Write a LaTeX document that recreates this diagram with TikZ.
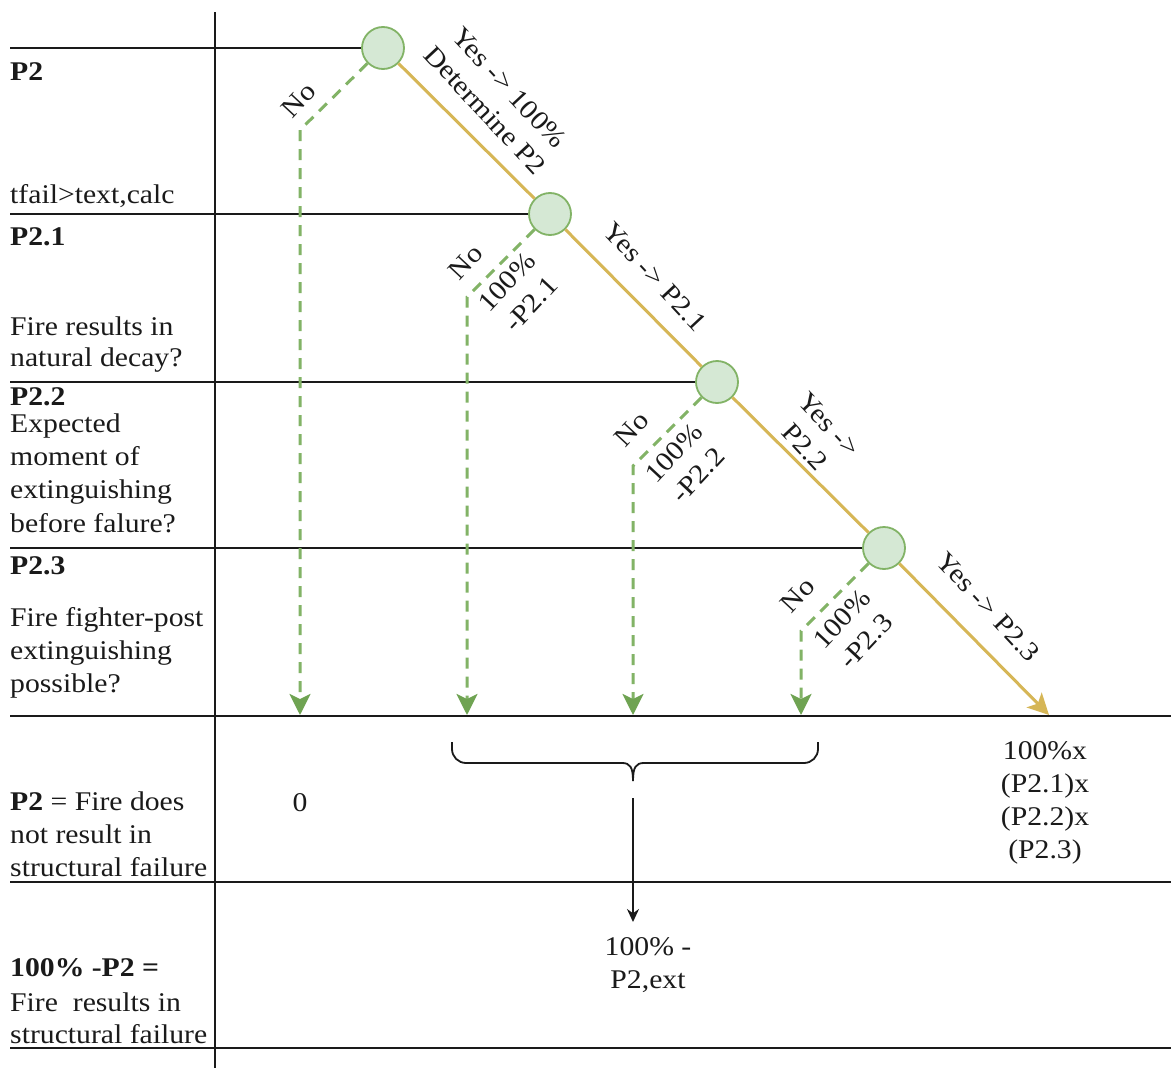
\documentclass[tikz,border=0pt]{standalone}
\usepackage{fontspec}
\setmainfont{Liberation Serif}[FakeStretch=1.1]
\usetikzlibrary{arrows.meta}
\definecolor{gfill}{HTML}{D5E8D4}
\definecolor{gline}{HTML}{82B366}
\definecolor{gtip}{HTML}{6FA352}
\definecolor{yline}{HTML}{D6B656}
\definecolor{ink}{HTML}{1A1A1A}
\newcommand\labfs{\fontsize{27}{33}\selectfont}
\tikzset{
  dec/.style={circle, draw=gline, fill=gfill, line width=1.8pt, minimum size=42pt, inner sep=0pt},
  rule/.style={draw=ink, line width=1.8pt},
  yesline/.style={draw=yline, line width=3pt},
  noline/.style={draw=gline, line width=3pt, dash pattern=on 11pt off 8pt,
     -{Stealth[length=21pt,width=21pt,inset=5pt,color=gtip]}},
  lt/.style={anchor=base west, inner sep=0pt, font=\labfs, text=ink},
  lab/.style={inner sep=0pt, font=\labfs, align=center, text=ink},
  brace/.style={draw=ink, line width=1.8pt},
}
\begin{document}
\begin{tikzpicture}[x=1pt,y=-1pt]
\useasboundingbox (0,0) rectangle (1171,1068);
\fill[white] (0,0) rectangle (1171,1068);

% grid lines
\coordinate (vt) at (215,12);
\coordinate (vb) at (215,1068);
\draw[rule] (vt) -- (vb);

\node[dec] (c1) at (383,48) {};
\node[dec] (c2) at (550,214) {};
\node[dec] (c3) at (717,382) {};
\node[dec] (c4) at (884,548) {};

\coordinate (L1) at (10,48);
\coordinate (L2) at (10,214);
\coordinate (L3) at (10,382);
\coordinate (L4) at (10,548);
\draw[rule] (L1) -- (c1.west);
\draw[rule] (L2) -- (c2.west);
\draw[rule] (L3) -- (c3.west);
\draw[rule] (L4) -- (c4.west);

\coordinate (L5) at (10,716);   \coordinate (R5) at (1171,716);
\coordinate (L6) at (10,882);   \coordinate (R6) at (1171,882);
\coordinate (L7) at (10,1048);  \coordinate (R7) at (1171,1048);
\draw[rule] (L5) -- (R5);
\draw[rule] (L6) -- (R6);
\draw[rule] (L7) -- (R7);

% yes path
\coordinate (yend) at (1049,715);
\draw[yesline] (c1) -- (c2);
\draw[yesline] (c2) -- (c3);
\draw[yesline] (c3) -- (c4);
\draw[yesline, -{Stealth[length=21pt,width=21pt,inset=5pt]}] (c4) -- (yend);

% no paths
\coordinate (b1) at (300,130);  \coordinate (e1) at (300,715);
\coordinate (b2) at (467,297);  \coordinate (e2) at (467,715);
\coordinate (b3) at (633,466);  \coordinate (e3) at (633,715);
\coordinate (b4) at (801,631);  \coordinate (e4) at (801,715);
\draw[noline] (c1) -- (b1) -- (e1);
\draw[noline] (c2) -- (b2) -- (e2);
\draw[noline] (c3) -- (b3) -- (e3);
\draw[noline] (c4) -- (b4) -- (e4);

% labels on branches
\node[lab, rotate=-47] (y1) at (497,99) {Yes -> 100\%\\Determine P2};
\node[lab, rotate=-47] (y2) at (655,277) {Yes -> P2.1};
\node[lab, rotate=-47] (y3) at (817,436) {Yes ->\\P2.2};
\node[lab, rotate=-47] (y4) at (988,607) {Yes -> P2.3};

\node[lab, rotate=47] (n1) at (299,100) {No};
\node[lab, rotate=47] (n2) at (466,262) {No};
\node[lab, rotate=47] (n3) at (632,429) {No};
\node[lab, rotate=47] (n4) at (798,595) {No};

\node[lab, rotate=47] (p2) at (519,293) {100\%\\-P2.1};
\node[lab, rotate=47] (p3) at (686,464) {100\%\\-P2.2};
\node[lab, rotate=47] (p4) at (854,630) {100\%\\-P2.3};

% left column
\node[lt] (t01) at (10,80) {\textbf{P2}};
\node[lt] (t02) at (10,203) {tfail>text,calc};
\node[lt] (t03) at (10,245) {\textbf{P2.1}};
\node[lt] (t04) at (10,335) {Fire results in};
\node[lt] (t05) at (10,366) {natural decay?};
\node[lt] (t06) at (10,405) {\textbf{P2.2}};
\node[lt] (t07) at (10,432) {Expected};
\node[lt] (t08) at (10,465) {moment of};
\node[lt] (t09) at (10,498) {extinguishing};
\node[lt] (t10) at (10,532) {before falure?};
\node[lt] (t11) at (10,574) {\textbf{P2.3}};
\node[lt] (t12) at (10,626) {Fire fighter-post};
\node[lt] (t13) at (10,659) {extinguishing};
\node[lt] (t14) at (10,692) {possible?};
\node[lt] (t15) at (10,810) {\textbf{P2} = Fire does};
\node[lt] (t16) at (10,843) {not result in};
\node[lt] (t17) at (10,876) {structural failure};
\node[lt] (t18) at (10,976) {\textbf{100\% -P2 =}};
\node[lt] (t19) at (10,1011) {Fire\ \ results in};
\node[lt] (t20) at (10,1043) {structural failure};

% outcomes
\node[lab, anchor=base] (zero) at (300,811) {0};
\node[lab] (prod) at (1045,803) {100\%x\\(P2.1)x\\(P2.2)x\\(P2.3)};
\node[lab] (ext) at (648,965) {100\% -\\P2,ext};

% brace
\draw[brace, rounded corners=14pt] (452,742) |- (622,763);
\draw[brace] (622,763) .. controls (630,763) and (633,767) .. (633,781);
\draw[brace] (633,781) .. controls (633,767) and (636,763) .. (644,763);
\draw[brace, rounded corners=14pt] (644,763) -| (818,742);

\coordinate (arrs) at (633,798);
\coordinate (arre) at (633,922);
\draw[rule, -{Stealth[length=13pt,width=12pt]}] (arrs) -- (arre);
\end{tikzpicture}
\end{document}
